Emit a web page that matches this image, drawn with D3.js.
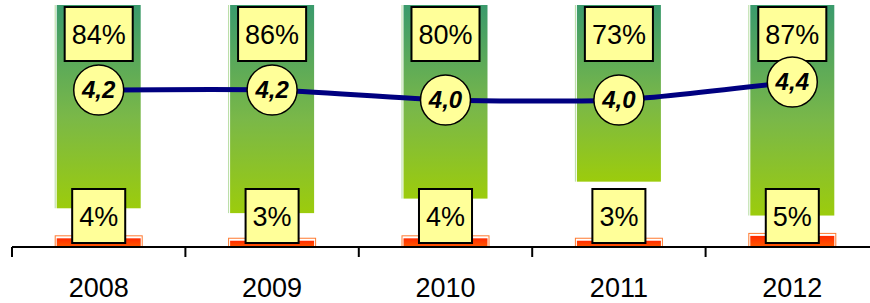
<!DOCTYPE html>
<html lang="en">
<head>
    <meta charset="UTF-8">
    <title>Chart</title>
    <script src="https://d3js.org/d3.v7.min.js"></script>
    <style>
        body { margin: 0; background: #fff; }
        text { font-family: Arial, "Liberation Sans", sans-serif; }
    </style>
</head>
<body>
    <svg width="870" height="303"></svg>
    <script>
        // data
        var years = ["2008", "2009", "2010", "2011", "2012"];
        var greenShare = [84, 86, 80, 73, 87];   // %
        var redShare = [4, 3, 4, 3, 5];          // %
        var score = [4.2, 4.2, 4.0, 4.0, 4.36];

        var svg = d3.select("svg");
        var defs = svg.append("defs");

        var gGreen = defs.append("linearGradient")
            .attr("id", "gGreen").attr("x1", 0).attr("y1", 0).attr("x2", 0).attr("y2", 1);
        gGreen.append("stop").attr("offset", "0%").attr("stop-color", "#3a9a6c");
        gGreen.append("stop").attr("offset", "55%").attr("stop-color", "#7ab848");
        gGreen.append("stop").attr("offset", "100%").attr("stop-color", "#9ccc0c");

        var gRed = defs.append("linearGradient")
            .attr("id", "gRed").attr("x1", 0).attr("y1", 0).attr("x2", 0).attr("y2", 1);
        gRed.append("stop").attr("offset", "0%").attr("stop-color", "#ff2a00");
        gRed.append("stop").attr("offset", "100%").attr("stop-color", "#ff5a00");

        var x = d3.scaleBand().domain(years).range([12, 879]).paddingInner(0).paddingOuter(0);
        var y = d3.scaleLinear().domain([0, 100]).range([247, 5]);
        var y2 = d3.scaleLinear().domain([2, 6]).range([200, 0]);
        var barW = 84;
        var cx = function(i) { return x(years[i]) + x.bandwidth() / 2; };

        // green bars hang from the top (100%)
        var green = svg.append("g").selectAll("g")
            .data(greenShare).enter().append("g");
        green.append("rect")
            .attr("x", function(d, i) { return cx(i) - barW / 2; })
            .attr("y", y(100))
            .attr("width", barW)
            .attr("height", function(d) { return y(100 - d) - y(100); })
            .attr("fill", "url(#gGreen)");
        green.append("line")
            .attr("x1", function(d, i) { return cx(i) - barW / 2 - 1.5; })
            .attr("x2", function(d, i) { return cx(i) - barW / 2 - 1.5; })
            .attr("y1", y(100))
            .attr("y2", function(d) { return y(100 - d); })
            .attr("stroke", "#b5dca0").attr("stroke-width", 1);

        // red bars from the baseline
        var red = svg.append("g").selectAll("g")
            .data(redShare).enter().append("g");
        red.append("rect")
            .attr("x", function(d, i) { return cx(i) - barW / 2 - 1.5; })
            .attr("y", function(d) { return y(d) - 1.5; })
            .attr("width", barW + 3)
            .attr("height", function(d) { return y(0) - y(d) + 1.5; })
            .attr("fill", "none")
            .attr("stroke", "#ff7a30").attr("stroke-width", 1);
        red.append("rect")
            .attr("x", function(d, i) { return cx(i) - barW / 2; })
            .attr("y", function(d) { return y(d) + 1; })
            .attr("width", barW)
            .attr("height", function(d) { return y(0) - y(d) - 1; })
            .attr("fill", "url(#gRed)");

        // axis
        var axis = svg.append("g");
        axis.append("line")
            .attr("x1", 12).attr("x2", 870).attr("y1", y(0)).attr("y2", y(0))
            .attr("stroke", "#000").attr("stroke-width", 2);
        axis.selectAll(".tick").data(years).enter().append("line")
            .attr("x1", function(d) { return x(d); })
            .attr("x2", function(d) { return x(d); })
            .attr("y1", y(0)).attr("y2", y(0) + 10)
            .attr("stroke", "#000").attr("stroke-width", 2);
        axis.selectAll("text").data(years).enter().append("text")
            .attr("x", function(d) { return x(d) + x.bandwidth() / 2; })
            .attr("y", 297)
            .attr("text-anchor", "middle")
            .attr("font-size", 27)
            .text(function(d) { return d; });

        // line
        var line = d3.line()
            .x(function(d, i) { return cx(i); })
            .y(function(d) { return y2(d); })
            .curve(d3.curveCardinal.tension(0.4));
        svg.append("path")
            .datum(score)
            .attr("d", line)
            .attr("fill", "none")
            .attr("stroke", "#000080")
            .attr("stroke-width", 5);

        // boxed labels
        function boxLabel(g, txt, xc, yc) {
            var t = g.append("text")
                .attr("x", xc).attr("y", yc + 10)
                .attr("text-anchor", "middle")
                .attr("font-size", 27)
                .text(txt);
            var w = t.node().getComputedTextLength() + 14;
            g.insert("rect", "text")
                .attr("x", xc - w / 2).attr("y", yc - 27)
                .attr("width", w).attr("height", 54)
                .attr("fill", "#ffff99")
                .attr("stroke", "#000").attr("stroke-width", 2);
        }
        greenShare.forEach(function(d, i) {
            boxLabel(svg.append("g"), d + "%", cx(i), y(100) + 29);
        });
        redShare.forEach(function(d, i) {
            boxLabel(svg.append("g"), d + "%", cx(i), y(0) - 31);
        });

        // score markers
        var fmt = function(v) { return d3.format(".1f")(v).replace(".", ","); };
        var dots = svg.append("g").selectAll("g")
            .data(score).enter().append("g")
            .attr("transform", function(d, i) { return "translate(" + cx(i) + "," + y2(d) + ")"; });
        dots.append("circle")
            .attr("r", 25)
            .attr("fill", "#ffff99")
            .attr("stroke", "#000").attr("stroke-width", 1.5);
        dots.append("text")
            .attr("text-anchor", "middle")
            .attr("y", 8)
            .attr("font-size", 24)
            .attr("font-weight", "bold")
            .attr("font-style", "italic")
            .text(fmt);
    </script>
</body>
</html>
